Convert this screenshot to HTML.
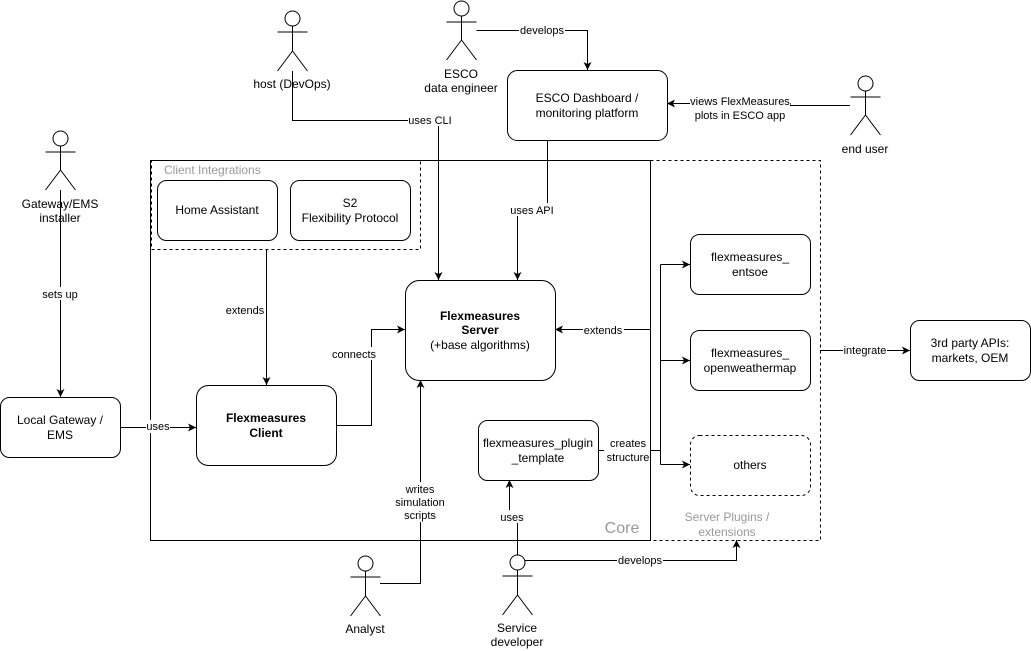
<!DOCTYPE html>
<html><head><meta charset="utf-8"><style>
html,body{margin:0;padding:0;background:#fff;}
svg{display:block;font-family:"Liberation Sans",sans-serif;}
</style></head><body>
<svg width="1031" height="651" viewBox="0 0 1031 651" xmlns="http://www.w3.org/2000/svg">
<defs>
<marker id="a" markerWidth="10" markerHeight="10" refX="8" refY="5" orient="auto" markerUnits="userSpaceOnUse">
<path d="M0,1 L8,5 L0,9 L2,5 Z" fill="#000"/>
</marker>
</defs>
<g fill="none" stroke="#000" stroke-width="1">
<rect x="150.5" y="160.5" width="500" height="380"/>
<rect x="650.5" y="160.5" width="170" height="380" stroke-dasharray="3,3"/>
<rect x="151.5" y="160.5" width="269" height="89" stroke-dasharray="3,3"/>
<rect x="507.5" y="70.5" width="160" height="70" rx="10"/>
<rect x="157.5" y="180.5" width="120" height="60" rx="9"/>
<rect x="290.5" y="180.5" width="120" height="60" rx="9"/>
<rect x="405.5" y="280.5" width="150" height="100" rx="14"/>
<rect x="0.5" y="397.5" width="120" height="60" rx="9"/>
<rect x="196.5" y="385.5" width="140" height="80" rx="12"/>
<rect x="478.5" y="420.5" width="120" height="60" rx="9"/>
<rect x="690.5" y="234.5" width="120" height="60" rx="9"/>
<rect x="690.5" y="330.5" width="120" height="60" rx="9"/>
<rect x="690.5" y="435.5" width="120" height="60" rx="9" stroke-dasharray="3,3"/>
<rect x="910.5" y="320.5" width="120" height="60" rx="9"/>
</g>
<g fill="#fff" stroke="#000">
<circle cx="292.5" cy="18.5" r="7.5"/><path d="M292.5 26v25M277.5 32h30M292.5 51l-15 20M292.5 51l15 20" fill="none"/>
<circle cx="461.5" cy="8.5" r="7.5"/><path d="M461.5 16v24M446.5 22h30M461.5 40l-15 20M461.5 40l15 20" fill="none"/>
<circle cx="865.5" cy="83.5" r="7.5"/><path d="M865.5 91v24M850.5 97h30M865.5 115l-15 20M865.5 115l15 20" fill="none"/>
<circle cx="60.5" cy="138.5" r="7.5"/><path d="M60.5 146v24M45.5 152h30M60.5 170l-15 20M60.5 170l15 20" fill="none"/>
<circle cx="365.5" cy="563.5" r="7.5"/><path d="M365.5 571v25M350.5 577h30M365.5 596l-15 20M365.5 596l15 20" fill="none"/>
<circle cx="517.5" cy="562.5" r="7.5"/><path d="M517.5 570v25M502.5 576h30M517.5 595l-15 20M517.5 595l15 20" fill="none"/>
</g>
<g fill="none" stroke="#000">
<path d="M476.5 30.5H587.5V70" marker-end="url(#a)"/>
<path d="M292.5 71V120.5H438.5V280" marker-end="url(#a)"/>
<path d="M850 105.5H790V103.5H667" marker-end="url(#a)"/>
<path d="M547.5 140V210.5H517.5V280" marker-end="url(#a)"/>
<path d="M60.5 190V397" marker-end="url(#a)"/>
<path d="M266.5 250V385" marker-end="url(#a)"/>
<path d="M120 427.5H196" marker-end="url(#a)"/>
<path d="M336 425.5H371.5V329.5H405" marker-end="url(#a)"/>
<path d="M650 329.5H555" marker-end="url(#a)"/>
<path d="M598 450.5H660.5"/>
<path d="M660.5 264.5V464.5"/>
<path d="M660.5 264.5H690" marker-end="url(#a)"/>
<path d="M660.5 360.5H690" marker-end="url(#a)"/>
<path d="M660.5 464.5H690" marker-end="url(#a)"/>
<path d="M380 583.5H420.5V380" marker-end="url(#a)"/>
<path d="M517.5 555V517.5H509.5V480" marker-end="url(#a)"/>
<path d="M525 560.5H736.5V540" marker-end="url(#a)"/>
<path d="M820 350.5H910" marker-end="url(#a)"/>
</g>
<g font-size="11" text-anchor="middle" fill="#000">
<rect x="519" y="23" width="46" height="13" fill="#fff"/><text x="542" y="34">develops</text>
<rect x="408" y="113" width="45" height="13" fill="#fff"/><text x="430" y="124">uses CLI</text>
<rect x="690" y="94" width="100" height="28" fill="#fff"/><text x="740" y="105">views FlexMeasures</text><text x="740" y="119">plots in ESCO app</text>
<rect x="509" y="203" width="46" height="13" fill="#fff"/><text x="532" y="214">uses API</text>
<rect x="40" y="287" width="40" height="13" fill="#fff"/><text x="60" y="298">sets up</text>
<rect x="225" y="303" width="41" height="13" fill="#fff"/><text x="245" y="314">extends</text>
<rect x="146" y="420" width="24" height="13" fill="#fff"/><text x="158" y="430">uses</text>
<rect x="332" y="347" width="45" height="13" fill="#fff"/><text x="354" y="358">connects</text>
<rect x="583" y="323" width="41" height="13" fill="#fff"/><text x="603" y="334">extends</text>
<rect x="604" y="436" width="46" height="28" fill="#fff"/><text x="628" y="447">creates</text><text x="628" y="461">structure</text>
<rect x="394" y="482" width="52" height="40" fill="#fff"/><text x="420" y="493">writes</text><text x="420" y="506">simulation</text><text x="420" y="519">scripts</text>
<rect x="499" y="510" width="26" height="13" fill="#fff"/><text x="512" y="521">uses</text>
<rect x="617" y="553" width="46" height="13" fill="#fff"/><text x="640" y="564">develops</text>
<rect x="843" y="343" width="44" height="13" fill="#fff"/><text x="865" y="354">integrate</text>
</g>
<g font-size="12" text-anchor="middle" fill="#000">
<text x="292" y="88">host (DevOps)</text>
<text x="461" y="78">ESCO</text><text x="461" y="92">data engineer</text>
<text x="865" y="153">end user</text>
<text x="60" y="208">Gateway/EMS</text><text x="60" y="222">installer</text>
<text x="365" y="633">Analyst</text>
<text x="517" y="632">Service</text><text x="517" y="646">developer</text>
<text x="587" y="102">ESCO Dashboard /</text><text x="587" y="117">monitoring platform</text>
<text x="217" y="214">Home Assistant</text>
<text x="350" y="207">S2</text><text x="350" y="222">Flexibility Protocol</text>
<text x="480" y="320" font-weight="bold">Flexmeasures</text><text x="480" y="334" font-weight="bold">Server</text><text x="480" y="349">(+base algorithms)</text>
<text x="60" y="424">Local Gateway /</text><text x="60" y="439">EMS</text>
<text x="266" y="422" font-weight="bold">Flexmeasures</text><text x="266" y="437" font-weight="bold">Client</text>
<text x="538" y="447">flexmeasures_plugin</text><text x="538" y="462">_template</text>
<text x="750" y="261">flexmeasures_</text><text x="750" y="276">entsoe</text>
<text x="750" y="357">flexmeasures_</text><text x="750" y="372">openweathermap</text>
<text x="750" y="469">others</text>
<text x="970" y="347">3rd party APIs:</text><text x="970" y="362">markets, OEM</text>
</g>
<g fill="#999" font-size="12">
<text x="164" y="174">Client Integrations</text>
<text x="622" y="533" font-size="16" text-anchor="middle">Core</text>
<text x="727" y="521" text-anchor="middle">Server Plugins /</text>
<text x="727" y="536" text-anchor="middle">extensions</text>
</g>
</svg>
</body></html>
